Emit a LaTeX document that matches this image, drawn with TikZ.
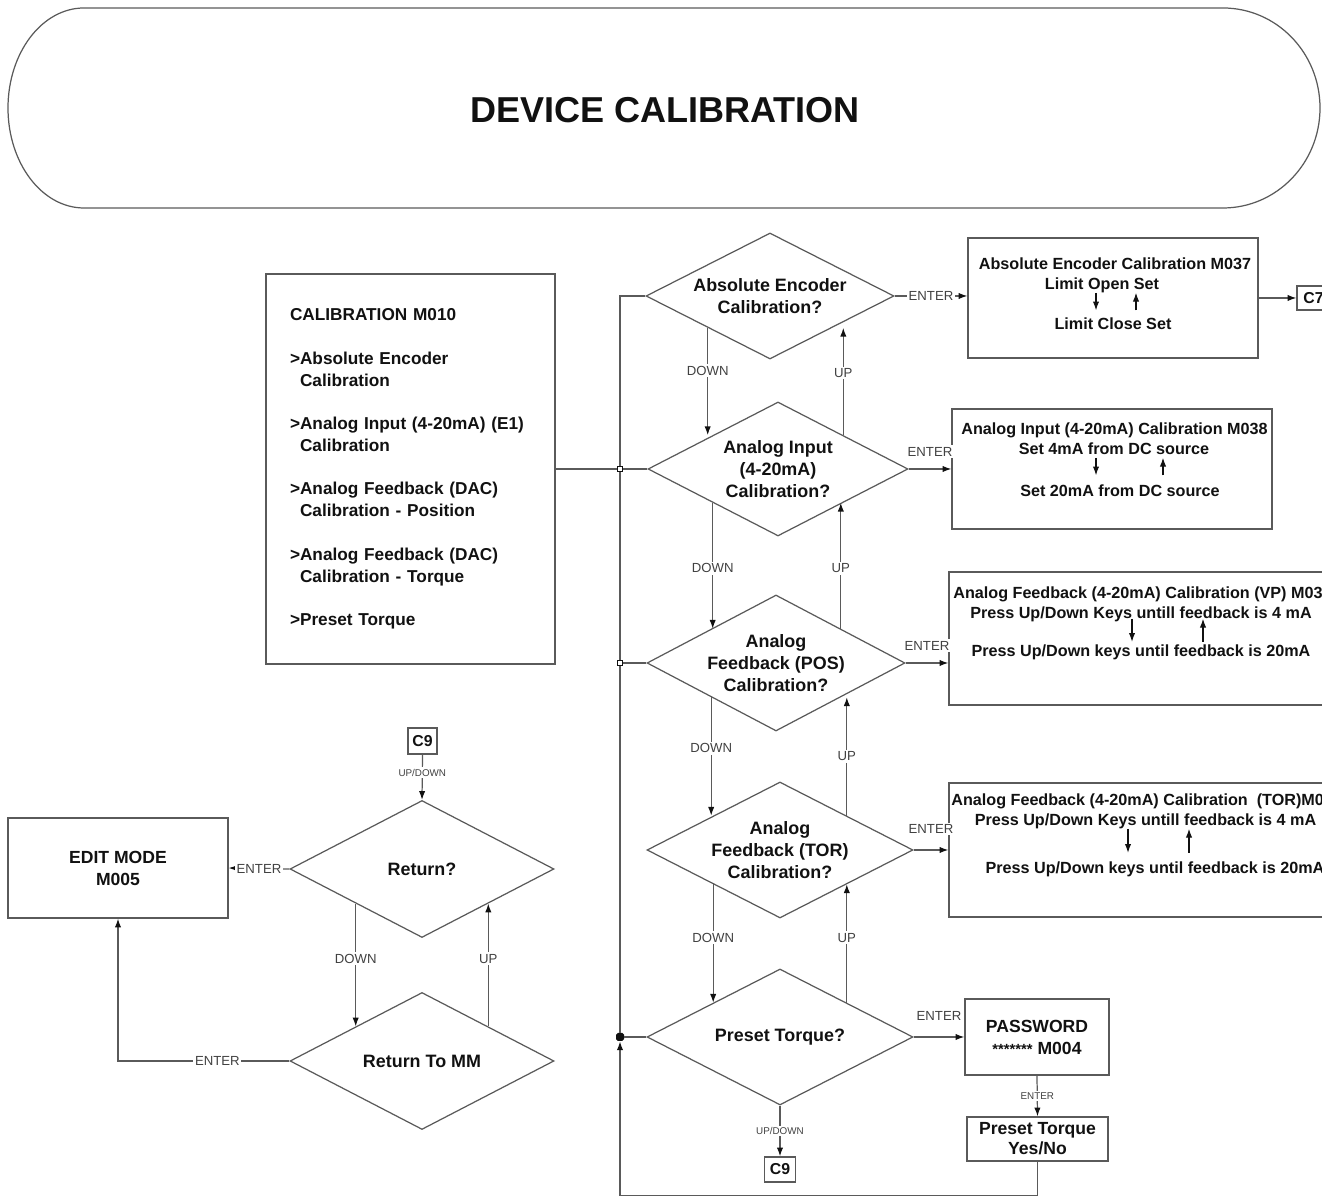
\documentclass[tikz,border=0pt]{standalone}
\usepackage{fontspec}
\setmainfont{Liberation Sans}
\usetikzlibrary{shapes.geometric,arrows.meta}
\definecolor{ink}{HTML}{111111}
\definecolor{line}{HTML}{5A5A5A}
\tikzset{
    framebox/.style={
        draw=line,
        line width=0.7pt
    },
    titletext/.style={
        font=\fontsize{20.5}{24}\selectfont\bfseries,
        text=ink
    },
    menubox/.style={
        rectangle,
        draw=line,
        line width=0.7pt,
        align=left,
        inner xsep=0.48cm,
        font=\fontsize{9.8}{12.5}\selectfont\bfseries,
        text=ink
    },
    decision/.style={
        diamond,
        aspect=2,
        draw=line,
        line width=0.7pt,
        inner sep=0pt,
        align=center,
        font=\fontsize{10.2}{12.5}\selectfont\bfseries,
        text=ink
    },
    infobox/.style={
        rectangle,
        draw=line,
        line width=0.7pt,
        inner sep=0pt
    },
    boxline/.style={
        font=\fontsize{9.2}{11}\selectfont\bfseries,
        text=ink,
        inner sep=0pt,
        text height=6.6pt,
        text depth=1.9pt
    },
    textbox/.style={
        rectangle,
        draw=line,
        line width=0.7pt,
        align=center,
        font=\fontsize{10}{12.5}\selectfont\bfseries,
        text=ink
    },
    tagbox/.style={
        rectangle,
        draw=line,
        line width=0.7pt,
        inner sep=0pt,
        font=\fontsize{9}{10}\selectfont\bfseries,
        text=ink
    },
    flow/.style={
        ->,
        draw=line,
        line width=0.7pt
    },
    link/.style={
        draw=line,
        line width=0.7pt
    },
    keyarrow/.style={
        ->,
        draw=ink,
        line width=0.6pt
    },
    keylabel/.style={
        font=\fontsize{7.5}{9}\selectfont,
        text=ink!80,
        fill=white,
        inner sep=1pt
    },
    smalllabel/.style={
        font=\fontsize{5.6}{7}\selectfont,
        text=ink!80,
        fill=white,
        inner sep=1pt
    },
    junction/.style={
        rectangle,
        draw=ink,
        fill=white,
        line width=0.4pt,
        minimum size=0.1cm,
        inner sep=0pt
    },
    joindot/.style={
        rectangle,
        rounded corners=1pt,
        fill=ink,
        minimum size=0.16cm,
        inner sep=0pt
    }
}

\begin{document}
\begin{tikzpicture}[x=1cm,y=1cm,>={Latex[length=5pt,width=3.6pt,color=ink]}]
    \useasboundingbox (0,0) rectangle (26.44,23.96);

    % Title banner
    \draw[framebox] (1.68,23.80) -- (24.46,23.80)
        arc[start angle=90, end angle=-90, x radius=1.94, y radius=2.00]
        -- (1.68,19.80)
        arc[start angle=270, end angle=90, x radius=1.52, y radius=2.00] -- cycle;
    \node[titletext] (title) at (13.30,21.76) {DEVICE CALIBRATION};

    % Calibration menu
    \node[menubox, text width=4.82cm, minimum height=7.80cm] (menu) at (8.21,14.58) {
        CALIBRATION M010\\[12.2pt]
        >Absolute Encoder\\
        \phantom{>}Calibration\\[12.2pt]
        >Analog Input (4-20mA) (E1)\\
        \phantom{>}Calibration\\[12.2pt]
        >Analog Feedback (DAC)\\
        \phantom{>}Calibration - Position\\[12.2pt]
        >Analog Feedback (DAC)\\
        \phantom{>}Calibration - Torque\\[12.2pt]
        >Preset Torque};

    % Decisions
    \node[decision, minimum width=4.96cm, minimum height=2.52cm] (abs) at (15.40,18.04) {Absolute Encoder\\Calibration?};
    \node[decision, minimum width=5.20cm, minimum height=2.68cm] (ain) at (15.56,14.58) {Analog Input\\(4-20mA)\\Calibration?};
    \node[decision, minimum width=5.16cm, minimum height=2.72cm] (fbpos) at (15.52,10.70) {Analog\\Feedback (POS)\\Calibration?};
    \node[decision, minimum width=5.32cm, minimum height=2.72cm] (fbtor) at (15.60,6.96) {Analog\\Feedback (TOR)\\Calibration?};
    \node[decision, minimum width=5.32cm, minimum height=2.72cm] (preset) at (15.60,3.22) {Preset Torque?};

    % Return loop
    \node[decision, minimum width=5.28cm, minimum height=2.74cm] (ret) at (8.44,6.58) {Return?};
    \node[decision, minimum width=5.28cm, minimum height=2.74cm] (ret-mm) at (8.44,2.74) {Return To MM};
    \node[textbox, minimum width=4.40cm, minimum height=2.00cm] (edit) at (2.36,6.60) {EDIT MODE\\M005};
    \node[tagbox, minimum width=0.58cm, minimum height=0.52cm] (c9-top) at (8.45,9.14) {C9};

    % Screens reached with ENTER
    \node[infobox, minimum width=5.80cm, minimum height=2.40cm] (abs-box) at (22.26,18.00) {};
    \node[boxline] (abs-l1) at (22.30,18.66) {Absolute Encoder Calibration M037};
    \node[boxline] (abs-l2) at (22.04,18.26) {Limit Open Set};
    \node[boxline] (abs-l3) at (22.26,17.46) {Limit Close Set};
    \node[tagbox, minimum width=0.66cm, minimum height=0.48cm] (c7) at (26.27,18.00) {C7};

    \node[infobox, minimum width=6.40cm, minimum height=2.40cm] (ain-box) at (22.24,14.58) {};
    \node[boxline] (ain-l1) at (22.29,15.36) {Analog Input (4-20mA) Calibration M038};
    \node[boxline] (ain-l2) at (22.28,14.96) {Set 4mA from DC source};
    \node[boxline] (ain-l3) at (22.40,14.12) {Set 20mA from DC source};

    \node[infobox, minimum width=7.82cm, minimum height=2.66cm] (pos-box) at (22.89,11.19) {};
    \node[boxline, anchor=west] (pos-l1) at (19.06,12.08) {Analog Feedback (4-20mA) Calibration (VP) M03};
    \node[boxline] (pos-l2) at (22.82,11.68) {Press Up/Down Keys untill feedback is 4 mA};
    \node[boxline] (pos-l3) at (22.82,10.92) {Press Up/Down keys until feedback is 20mA};

    \node[infobox, minimum width=7.82cm, minimum height=2.68cm] (tor-box) at (22.89,6.96) {};
    \node[boxline, anchor=west] (tor-l1) at (19.02,7.94) {Analog Feedback (4-20mA) Calibration\ \ (TOR)M0};
    \node[boxline] (tor-l2) at (22.91,7.54) {Press Up/Down Keys untill feedback is 4 mA};
    \node[boxline] (tor-l3) at (23.10,6.58) {Press Up/Down keys until feedback is 20mA};

    \node[textbox, minimum width=2.88cm, minimum height=1.52cm] (pass) at (20.74,3.22) {PASSWORD\\{\fontsize{8.4}{10}\selectfont *******} M004};
    \node[textbox, minimum width=2.82cm, minimum height=0.88cm, inner sep=0pt,
        font=\fontsize{10}{11.3}\selectfont\bfseries] (yesno) at (20.75,1.18) {Preset Torque\\Yes/No};
    \node[tagbox, minimum width=0.62cm, minimum height=0.50cm] (c9-low) at (15.60,0.57) {C9};

    % Bus on the left of the decisions
    \node[junction] (j1) at (12.40,14.58) {};
    \node[junction] (j2) at (12.40,10.70) {};
    \node[joindot] (j3) at (12.40,3.22) {};
    \draw[link] (abs.west) -| (j1);
    \draw[link] (menu.east) -- (j1) -- (ain.west);
    \draw[link] (j1) -- (j2) -- (fbpos.west);
    \draw[link] (j2) -- (j3) -- (preset.west);

    % DOWN / UP between decisions
    \draw[flow] (abs.south west) -- (abs.south west |- ain.north west) node[keylabel, pos=0.4] {DOWN};
    \draw[flow] (ain.north east) -- (ain.north east |- abs.south east) node[keylabel, pos=0.58] {UP};
    \draw[flow] (ain.south west) -- (ain.south west |- fbpos.north west) node[keylabel, pos=0.52] {DOWN};
    \draw[flow] (fbpos.north east) -- (fbpos.north east |- ain.south east) node[keylabel, pos=0.48] {UP};
    \draw[flow] (fbpos.south west) -- (fbpos.south west |- fbtor.north west) node[keylabel, pos=0.43] {DOWN};
    \draw[flow] (fbtor.north east) -- (fbtor.north east |- fbpos.south east) node[keylabel, pos=0.5] {UP};
    \draw[flow] (fbtor.south west) -- (fbtor.south west |- preset.north west) node[keylabel, pos=0.45] {DOWN};
    \draw[flow] (preset.north east) -- (preset.north east |- fbtor.south east) node[keylabel, pos=0.55] {UP};

    % ENTER into the screens
    \draw[flow] (abs.east) -- (abs.east -| abs-box.west) node[keylabel, midway] {ENTER};
    \draw[flow] (abs-box.east) -- (c7.west);
    \draw[flow] (ain.east) -- (ain-box.west) node[keylabel, midway, above=6pt] {ENTER};
    \draw[flow] (fbpos.east) -- (fbpos.east -| pos-box.west) node[keylabel, midway, above=6pt] {ENTER};
    \draw[flow] (fbtor.east) -- (fbtor.east -| tor-box.west) node[keylabel, midway, above=8pt] {ENTER};
    \draw[flow] (preset.east) -- (pass.west) node[keylabel, midway, above=8pt] {ENTER};
    \draw[flow] (pass.south) -- (yesno.north) node[smalllabel, midway] {ENTER};
    \draw[flow] (yesno.south) -- ++(0,-0.68) -| (j3);
    \draw[flow] (preset.south) -- (c9-low.north) node[smalllabel, midway] {UP/DOWN};

    % Key arrows inside the screens
    \draw[keyarrow] ([xshift=-0.12cm]abs-l2.south) -- ++(0,-0.35);
    \draw[keyarrow] ([xshift=0.68cm,yshift=-0.35cm]abs-l2.south) -- ++(0,0.35);
    \draw[keyarrow] ([xshift=-0.36cm]ain-l2.south) -- ++(0,-0.35);
    \draw[keyarrow] ([xshift=0.98cm,yshift=-0.35cm]ain-l2.south) -- ++(0,0.35);
    \draw[keyarrow] ([xshift=-0.18cm,yshift=0.06cm]pos-l2.south) -- ++(0,-0.46);
    \draw[keyarrow] ([xshift=1.24cm,yshift=-0.40cm]pos-l2.south) -- ++(0,0.46);
    \draw[keyarrow] ([xshift=-0.35cm]tor-l2.south) -- ++(0,-0.48);
    \draw[keyarrow] ([xshift=0.87cm,yshift=-0.48cm]tor-l2.south) -- ++(0,0.48);

    % Return loop connectors
    \draw[flow] (c9-top.south) -- (ret.north) node[smalllabel, pos=0.4] {UP/DOWN};
    \draw[flow] (ret.south west) -- (ret.south west |- ret-mm.north west) node[keylabel, pos=0.45] {DOWN};
    \draw[flow] (ret-mm.north east) -- (ret-mm.north east |- ret.south east) node[keylabel, pos=0.55] {UP};
    \draw[flow] (ret.west) -- (edit.east) node[keylabel, midway] {ENTER};
    \draw[flow] (ret-mm.west) -| (edit.south) node[keylabel, pos=0.21] {ENTER};

\end{tikzpicture}
\end{document}
